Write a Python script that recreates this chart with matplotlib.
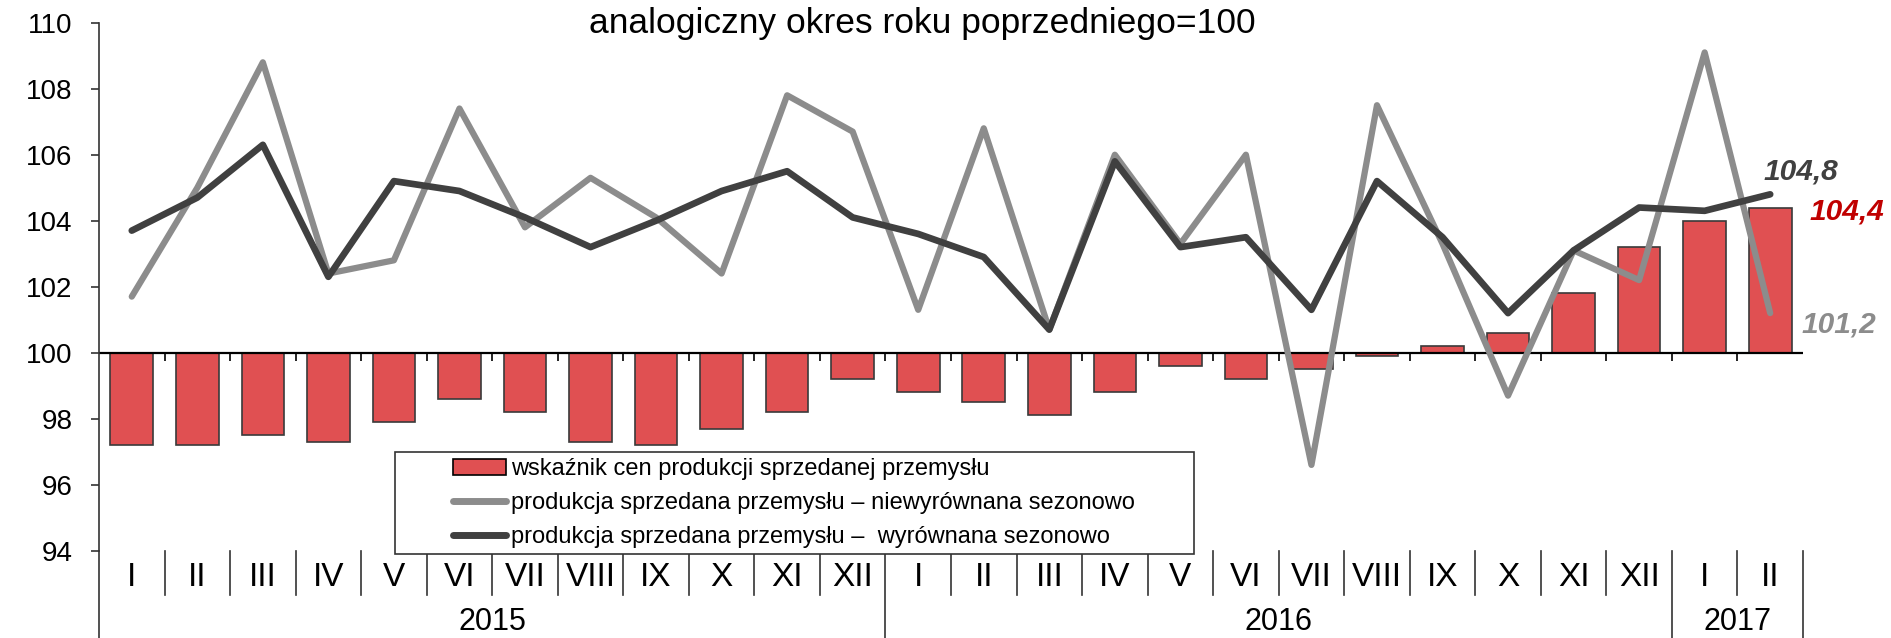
import numpy as np
import matplotlib.pyplot as plt
from matplotlib.patches import Patch, Rectangle
from matplotlib.lines import Line2D

plt.rcParams['font.family'] = ['Liberation Sans', 'DejaVu Sans']

# dane: miesiace I.2015 - II.2017
miesiace = ['I', 'II', 'III', 'IV', 'V', 'VI', 'VII', 'VIII', 'IX', 'X', 'XI', 'XII',
            'I', 'II', 'III', 'IV', 'V', 'VI', 'VII', 'VIII', 'IX', 'X', 'XI', 'XII',
            'I', 'II']
lata = ['2015', '2016', '2017']
lata_od_do = [(0, 11), (12, 23), (24, 25)]

# wskaznik cen produkcji sprzedanej przemyslu
ceny = [97.2, 97.2, 97.5, 97.3, 97.9, 98.6, 98.2, 97.3, 97.2, 97.7, 98.2, 99.2,
        98.8, 98.5, 98.1, 98.8, 99.6, 99.2, 99.5, 99.9, 100.2, 100.6, 101.8, 103.2,
        104.0, 104.4]
# produkcja sprzedana - niewyrownana sezonowo
niewyr = [101.7, 105.0, 108.8, 102.4, 102.8, 107.4, 103.8, 105.3, 104.1, 102.4, 107.8, 106.7,
          101.3, 106.8, 100.7, 106.0, 103.3, 106.0, 96.6, 107.5, 103.3, 98.7, 103.1, 102.2,
          109.1, 101.2]
# produkcja sprzedana - wyrownana sezonowo
wyr = [103.7, 104.7, 106.3, 102.3, 105.2, 104.9, 104.1, 103.2, 104.0, 104.9, 105.5, 104.1,
       103.6, 102.9, 100.7, 105.8, 103.2, 103.5, 101.3, 105.2, 103.5, 101.2, 103.1, 104.4,
       104.3, 104.8]

CZERWONY = '#e05052'
SZARY = '#8c8c8c'
CIEMNY = '#404040'

x = np.arange(len(miesiace))

fig = plt.figure(figsize=(18.91, 6.38), dpi=100)
ax = fig.add_axes([0.05235, 0.1368, 0.9011, 0.8276])

ax.bar(x, np.array(ceny) - 100, bottom=100, width=0.65, color=CZERWONY,
       edgecolor='#3a3a3a', linewidth=1.2, zorder=2)
ax.axhline(100, color='black', lw=1.6, zorder=2.5)
ax.vlines(x[:-1] + 0.5, 99.75, 100, color='black', lw=1.2, zorder=2.5)
ax.plot(x, niewyr, color=SZARY, lw=4.5, zorder=3, solid_capstyle='round')
ax.plot(x, wyr, color=CIEMNY, lw=4.8, zorder=4, solid_capstyle='round')

ax.set_xlim(-0.5, 25.5)
ax.set_ylim(94, 110)
ax.set_yticks(range(94, 111, 2))
ax.set_xticks([])
ax.tick_params(axis='y', labelsize=20, length=6, width=1.2, pad=13, color='#333333')
for s in ['top', 'right', 'bottom']:
    ax.spines[s].set_visible(False)
ax.spines['left'].set_color('#333333')
ax.spines['left'].set_linewidth(1.2)

# os kategorii pod wykresem
tr = ax.get_xaxis_transform()
for i, m in enumerate(miesiace):
    ax.text(i, -0.05, m, transform=tr, ha='center', va='center', fontsize=24)
granice_lat = [-0.5, 11.5, 23.5, 25.5]
for b in np.arange(-0.5, 26, 1):
    dol = -0.18 if b in granice_lat else -0.084
    ax.plot([b, b], [0, dol], transform=tr, color='#333333', lw=1.2, clip_on=False)
for rok, (a, b) in zip(lata, lata_od_do):
    ax.text((a + b) / 2, -0.1345, rok, transform=tr, ha='center', va='center', fontsize=22)

# etykiety ostatnich wartosci
ax.text(24.9, 105.48, '104,8', color=CIEMNY, fontsize=21.5, fontweight='bold',
        fontstyle='italic', va='center', ha='left', clip_on=False)
ax.text(25.6, 104.29, '104,4', color='#c00000', fontsize=21.5, fontweight='bold',
        fontstyle='italic', va='center', ha='left', clip_on=False)
ax.text(25.48, 100.87, '101,2', color=SZARY, fontsize=21.5, fontweight='bold',
        fontstyle='italic', va='center', ha='left', clip_on=False)

# legenda w ramce
ramka = Rectangle((0.1735, -0.0063), 0.6426 - 0.1735, 0.187 + 0.0063, transform=ax.transAxes,
                  facecolor='white', edgecolor='#333333', lw=1.2, zorder=5, clip_on=False)
ax.add_patch(ramka)
uchwyty = [Patch(facecolor=CZERWONY, edgecolor='black', linewidth=1.2),
           Line2D([], [], color=SZARY, lw=5, solid_capstyle='round'),
           Line2D([], [], color=CIEMNY, lw=5, solid_capstyle='round')]
opisy = ['wskaźnik cen produkcji sprzedanej przemysłu',
         'produkcja sprzedana przemysłu – niewyrównana sezonowo',
         'produkcja sprzedana przemysłu –  wyrównana sezonowo']
leg = ax.legend(uchwyty, opisy, loc='center', bbox_to_anchor=(0.408, 0.0903),
                frameon=False, fontsize=17, handlelength=2.25, handletextpad=0.2,
                labelspacing=0.5, borderpad=0, borderaxespad=0)
leg.set_zorder(6)

fig.text(922 / 1891, 1 - 33 / 638, 'analogiczny okres roku poprzedniego=100',
         ha='center', va='baseline', fontsize=25.5)

fig.savefig('out.png', dpi=100)
